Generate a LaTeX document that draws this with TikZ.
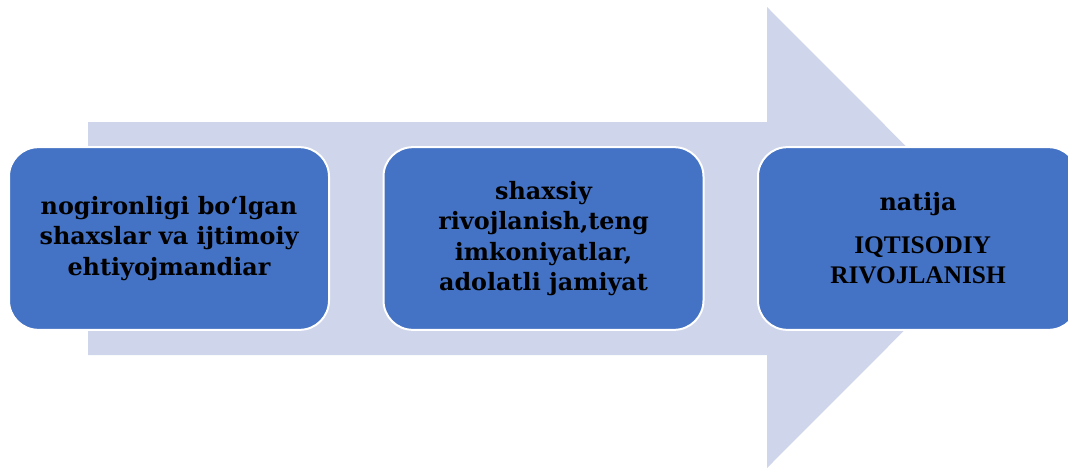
\documentclass[tikz,border=0pt]{standalone}
\usepackage{fontspec}
\setmainfont{Liberation Serif}
\newfontfamily\boxfont{DejaVu Serif}
\newcommand\capsfont{\rmfamily\fontsize{19}{22.5}\selectfont\bfseries}
\usetikzlibrary{positioning}
\definecolor{arrowfill}{HTML}{CFD5EA}
\definecolor{boxfill}{HTML}{4472C4}
\tikzset{
	stagebox/.style={draw=white,line width=1.5pt,fill=boxfill,rounded corners=22pt,
		minimum width=240pt,minimum height=137pt,align=center,text=black,
		font=\boxfont\fontsize{17.9}{22.8}\selectfont\bfseries}
}
\begin{document}
\begin{tikzpicture}[line cap=round,line join=round,x=0.75pt,y=-0.75pt]
		\useasboundingbox (0,0) rectangle (1068,468);
		%%%%%%%%%%%%%%%%%%%%% F L E C H A %%%%%%%%%%%%%%%%%%%%%
		\fill [arrowfill] (88,122) -- (767,122) -- (767,7) -- (997,237.5)
			-- (767,468) -- (767,355) -- (88,355) -- cycle;
		
		%%%% ETAPAS
		\node [stagebox] (disabled) at (169,238.5) {nogironligi bo‘lgan\\ shaxslar va ijtimoiy\\ ehtiyojmandiar};
		\node [stagebox] (equality) at (543.5,238.5) {shaxsiy\\ rivojlanish,teng\\ imkoniyatlar,\\ adolatli jamiyat};
		\node [stagebox] (result) at (918,238.5) {natija\\[9pt] \capsfont\hspace*{7pt}IQTISODIY\\ \capsfont RIVOJLANISH};
	\end{tikzpicture}
\end{document}
